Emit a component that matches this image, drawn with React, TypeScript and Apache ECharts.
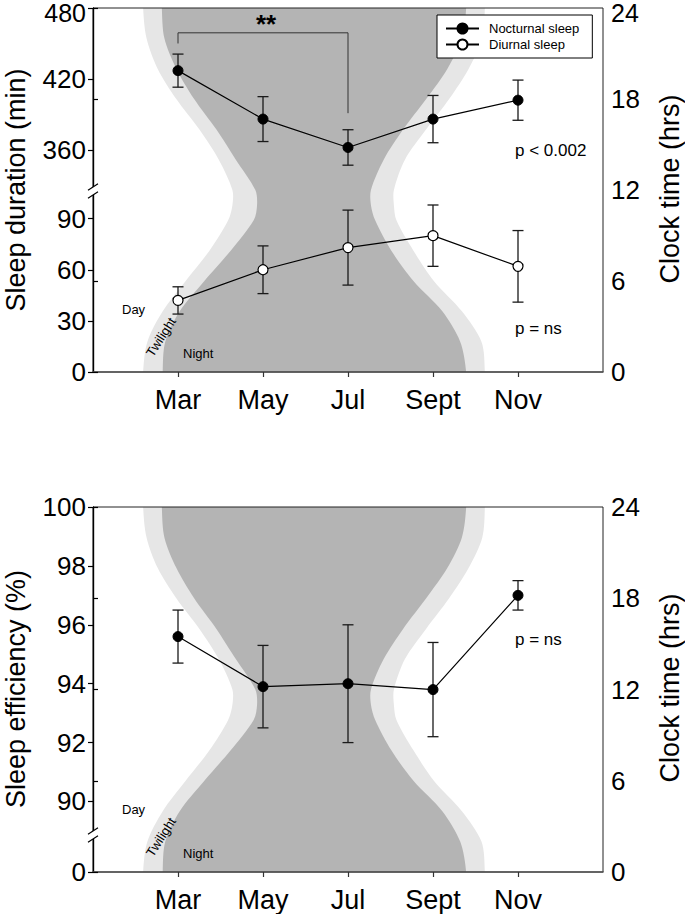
import React, { useEffect, useRef } from 'react';
import * as echarts from 'echarts';

const MONTHS = ['Mar', 'May', 'Jul', 'Sept', 'Nov'];
const MONTH_POS = [1, 2, 3, 4, 5];

const NOCT_MEAN = [427, 386, 362, 386, 402];
const NOCT_ERR = [14, 19, 15, 20, 17];
const DIUR_MEAN = [42, 60, 73, 80, 62];
const DIUR_ERR = [8, 14, 22, 18, 21];
const EFF_MEAN = [95.6, 93.9, 94.0, 93.8, 97.0];
const EFF_ERR = [0.9, 1.4, 2.0, 1.6, 0.5];

const DUR_UPPER_TICKS = [360, 420, 480];
const DUR_LOWER_TICKS = [0, 30, 60, 90];
const EFF_UPPER_TICKS = [90, 92, 94, 96, 98, 100];
const EFF_LOWER_TICKS = [0];

// Significance bracket (Mar vs Jul), in month position / minutes
const BRACKET = [[1, 450], [1, 459], [3, 459], [3, 391]];

// Light boundaries (month position) as a function of clock time
const CLOCK_HOURS = [24, 22, 20, 18, 16, 14, 12, 11, 10, 8, 6, 4, 2, 0];
const NIGHT_START = [0.81, 0.84, 0.98, 1.19, 1.45, 1.68, 1.91, 1.93, 1.89, 1.62, 1.31, 1.02, 0.85, 0.82];
const NIGHT_END = [4.39, 4.34, 4.17, 3.92, 3.65, 3.42, 3.27, 3.27, 3.32, 3.51, 3.77, 4.11, 4.32, 4.39];
const TWI_START = [0.59, 0.63, 0.76, 0.98, 1.25, 1.48, 1.64, 1.64, 1.59, 1.37, 1.09, 0.82, 0.64, 0.59];
const TWI_END = [4.61, 4.58, 4.42, 4.19, 3.92, 3.67, 3.54, 3.54, 3.57, 3.77, 4.01, 4.34, 4.57, 4.61];

const FONT = '"Liberation Sans", Arial, Helvetica, sans-serif';
const NIGHT_COLOR = '#b4b4b4';
const TWI_COLOR = '#e6e6e6';

const L = 93;
const W = 510;

function shade(starts: number[], ends: number[], color: string) {
  return (params: any, api: any) => {
    const left = CLOCK_HOURS.map((h, i) => api.coord([starts[i], h]));
    const right = CLOCK_HOURS.map((h, i) => api.coord([ends[i], h])).reverse();
    const ext = 40;
    const pts: number[][] = [];
    pts.push([left[0][0], left[0][1] - ext]);
    left.forEach((p: number[]) => pts.push(p));
    const lb = left[left.length - 1];
    pts.push([lb[0], lb[1] + ext]);
    pts.push([right[0][0], right[0][1] + ext]);
    right.forEach((p: number[]) => pts.push(p));
    const rt = right[right.length - 1];
    pts.push([rt[0], rt[1] - ext]);
    return { type: 'polygon', shape: { points: pts, smooth: 0.3 }, style: { fill: color } };
  };
}

function errorBar(params: any, api: any) {
  const x = api.value(0);
  const top = api.coord([x, api.value(2)]);
  const bot = api.coord([x, api.value(1)]);
  const hw = 5.5;
  const st = { stroke: '#1a1a1a', lineWidth: 1.3 };
  return {
    type: 'group',
    children: [
      { type: 'line', shape: { x1: top[0], y1: top[1], x2: bot[0], y2: bot[1] }, style: st },
      { type: 'line', shape: { x1: top[0] - hw, y1: top[1], x2: top[0] + hw, y2: top[1] }, style: st },
      { type: 'line', shape: { x1: bot[0] - hw, y1: bot[1], x2: bot[0] + hw, y2: bot[1] }, style: st },
    ],
  };
}

const errData = (mean: number[], err: number[]) => MONTH_POS.map((x, i) => [x, mean[i] - err[i], mean[i] + err[i]]);
const ptData = (mean: number[]) => MONTH_POS.map((x, i) => [x, mean[i]]);

function hiddenX(gridIndex: number) {
  return { type: 'value', gridIndex, min: 0, max: 6, show: false };
}

function monthX(gridIndex: number) {
  return {
    type: 'value', gridIndex, min: 0, max: 6,
    axisLine: { show: true, lineStyle: { color: '#555', width: 1.6 } },
    axisTick: { show: true, customValues: MONTH_POS, length: 5, inside: false, lineStyle: { color: '#333', width: 1.2 } },
    axisLabel: {
      customValues: MONTH_POS, margin: 14, fontSize: 27, color: '#000', fontFamily: FONT,
      formatter: (v: number) => MONTHS[MONTH_POS.indexOf(v)] ?? '',
    },
    splitLine: { show: false },
  };
}

// label rich style: pushes the topmost label of the top panel down, clear of the page edge
const TOP_LABEL_RICH = {
  edge: { fontSize: 25, fontFamily: FONT, color: '#000', padding: [10, 0, 0, 0] },
};

function leftY(gridIndex: number, min: number, max: number, ticks: number[], nudgeMax = false) {
  return {
    type: 'value', gridIndex, min, max, position: 'left',
    axisLine: { show: true, lineStyle: { color: '#000', width: 1.2 } },
    axisTick: { show: true, customValues: ticks, length: 5, lineStyle: { color: '#000', width: 1.2 } },
    axisLabel: {
      customValues: ticks, margin: 7, fontSize: 26, color: '#000', fontFamily: FONT,
      formatter: (v: number) => (nudgeMax && v === max ? `{edge|${v}}` : `${v}`),
      rich: TOP_LABEL_RICH,
    },
    splitLine: { show: false },
  };
}

function clockY(gridIndex: number, nudgeMax = false) {
  return {
    type: 'value', gridIndex, min: 0, max: 24, interval: 6, position: 'right',
    axisLine: { show: true, lineStyle: { color: '#000', width: 1.2 } },
    axisTick: { show: true, length: 5, lineStyle: { color: '#000', width: 1.2 } },
    axisLabel: {
      margin: 8, fontSize: 26, color: '#000', fontFamily: FONT,
      formatter: (v: number) => (nudgeMax && v === 24 ? `{edge|${v}}` : `${v}`),
      rich: TOP_LABEL_RICH,
    },
    splitLine: { show: false },
  };
}

function breakMark(cx: number, cy1: number, cy2: number) {
  const dx = 5, dy = 3.25;
  return [
    {
      type: 'polygon', z: 100,
      shape: { points: [[cx - dx, cy1 + dy], [cx + dx, cy1 - dy], [cx + dx, cy2 - dy], [cx - dx, cy2 + dy]] },
      style: { fill: '#fff' },
    },
    { type: 'line', z: 101, shape: { x1: cx - dx, y1: cy1 + dy, x2: cx + dx, y2: cy1 - dy }, style: { stroke: '#000', lineWidth: 1.2 } },
    { type: 'line', z: 101, shape: { x1: cx - dx, y1: cy2 + dy, x2: cx + dx, y2: cy2 - dy }, style: { stroke: '#000', lineWidth: 1.2 } },
  ];
}

function txt(text: string, x: number, y: number, fontSize: number, opts: any = {}) {
  const align = opts.align || 'left';
  return {
    type: 'text', x, y, z: 100, rotation: opts.rotation || 0,
    style: {
      text, fontSize, fontFamily: FONT, fill: '#000', fontWeight: opts.bold ? 'bold' : 'normal',
      align, textAlign: align, verticalAlign: 'middle', textVerticalAlign: 'middle',
    },
  };
}

function lineSeries(name: string, x: number, y: number, data: number[][], open: boolean) {
  return {
    type: 'line', name, xAxisIndex: x, yAxisIndex: y, data, z: 3,
    symbol: 'circle', symbolSize: 10,
    itemStyle: open ? { color: '#fff', borderColor: '#000', borderWidth: 1.2 } : { color: '#000', borderColor: '#000', borderWidth: 1 },
    lineStyle: { color: '#000', width: 1.2 },
  };
}

export default function App() {
  const ref = useRef<HTMLDivElement>(null);
  useEffect(() => {
    document.body.style.margin = '0';
    if (!ref.current) return;
    const chart = echarts.init(ref.current, undefined, { renderer: 'svg' });
    const option: any = {
      animation: false,
      textStyle: { fontFamily: FONT },
      grid: [
        { left: L, top: 8, width: W, height: 364, show: true, borderColor: '#222', borderWidth: 1, backgroundColor: 'transparent' },
        { left: L, top: 8, width: W, height: 182 },
        { left: L, top: 190, width: W, height: 182 },
        { left: L, top: 507, width: W, height: 365, show: true, borderColor: '#222', borderWidth: 1, backgroundColor: 'transparent' },
        { left: L, top: 507, width: W, height: 326 },
        { left: L, top: 833, width: W, height: 39 },
      ],
      xAxis: [monthX(0), hiddenX(1), hiddenX(2), monthX(3), hiddenX(4), hiddenX(5)],
      yAxis: [
        clockY(0, true),
        leftY(1, 326, 480, DUR_UPPER_TICKS, true),
        leftY(2, 0, 106.8, DUR_LOWER_TICKS),
        clockY(3),
        leftY(4, 88.93, 100, EFF_UPPER_TICKS),
        leftY(5, 0, 10, EFF_LOWER_TICKS),
      ],
      legend: {
        left: 437, top: 15, orient: 'vertical', selectedMode: false,
        padding: [7, 13, 7, 8], itemWidth: 33, itemHeight: 12.5, itemGap: 3,
        borderColor: '#000', borderWidth: 1, backgroundColor: '#fff',
        textStyle: { fontSize: 13, color: '#000', fontFamily: FONT, padding: [0, 0, 0, 5] },
        data: ['Nocturnal sleep', 'Diurnal sleep'],
      },
      series: [
        { type: 'custom', xAxisIndex: 0, yAxisIndex: 0, data: [[3, 12]], clip: true, silent: true, z: -2, renderItem: shade(TWI_START, TWI_END, TWI_COLOR) },
        { type: 'custom', xAxisIndex: 0, yAxisIndex: 0, data: [[3, 12]], clip: true, silent: true, z: -1, renderItem: shade(NIGHT_START, NIGHT_END, NIGHT_COLOR) },
        { type: 'custom', xAxisIndex: 3, yAxisIndex: 3, data: [[3, 12]], clip: true, silent: true, z: -2, renderItem: shade(TWI_START, TWI_END, TWI_COLOR) },
        { type: 'custom', xAxisIndex: 3, yAxisIndex: 3, data: [[3, 12]], clip: true, silent: true, z: -1, renderItem: shade(NIGHT_START, NIGHT_END, NIGHT_COLOR) },
        {
          type: 'line', xAxisIndex: 1, yAxisIndex: 1, data: BRACKET, symbol: 'none', silent: true, z: 2,
          lineStyle: { color: '#333', width: 1 },
        },
        { type: 'custom', xAxisIndex: 1, yAxisIndex: 1, data: errData(NOCT_MEAN, NOCT_ERR), encode: { x: 0, y: [1, 2] }, renderItem: errorBar, z: 2 },
        { type: 'custom', xAxisIndex: 2, yAxisIndex: 2, data: errData(DIUR_MEAN, DIUR_ERR), encode: { x: 0, y: [1, 2] }, renderItem: errorBar, z: 2 },
        { type: 'custom', xAxisIndex: 4, yAxisIndex: 4, data: errData(EFF_MEAN, EFF_ERR), encode: { x: 0, y: [1, 2] }, renderItem: errorBar, z: 2 },
        lineSeries('Nocturnal sleep', 1, 1, ptData(NOCT_MEAN), false),
        lineSeries('Diurnal sleep', 2, 2, ptData(DIUR_MEAN), true),
        lineSeries('Sleep efficiency', 4, 4, ptData(EFF_MEAN), false),
      ],
      graphic: [
        ...breakMark(93, 187, 195),
        ...breakMark(93, 831, 839),
        txt('Sleep duration (min)', 16, 190, 27, { align: 'center', rotation: Math.PI / 2 }),
        txt('Clock time (hrs)', 670, 189, 27, { align: 'center', rotation: Math.PI / 2 }),
        txt('Sleep efficiency (%)', 16, 689, 27, { align: 'center', rotation: Math.PI / 2 }),
        txt('Clock time (hrs)', 670, 688, 27, { align: 'center', rotation: Math.PI / 2 }),
        txt('**', 266, 24, 26, { align: 'center', bold: true }),
        txt('p < 0.002', 515, 150, 17),
        txt('p = ns', 515, 328, 17),
        txt('p = ns', 515, 639, 17),
        txt('Day', 122, 309, 13),
        txt('Night', 183, 353, 13),
        txt('Twilight', 161, 337, 13, { align: 'center', rotation: 1.0 }),
        txt('Day', 122, 809, 13),
        txt('Night', 183, 853, 13),
        txt('Twilight', 161, 837, 13, { align: 'center', rotation: 1.0 }),
      ],
    };
    chart.setOption(option);
    return () => chart.dispose();
  }, []);
  return <div ref={ref} style={{ width: 685, height: 914 }} />;
}
